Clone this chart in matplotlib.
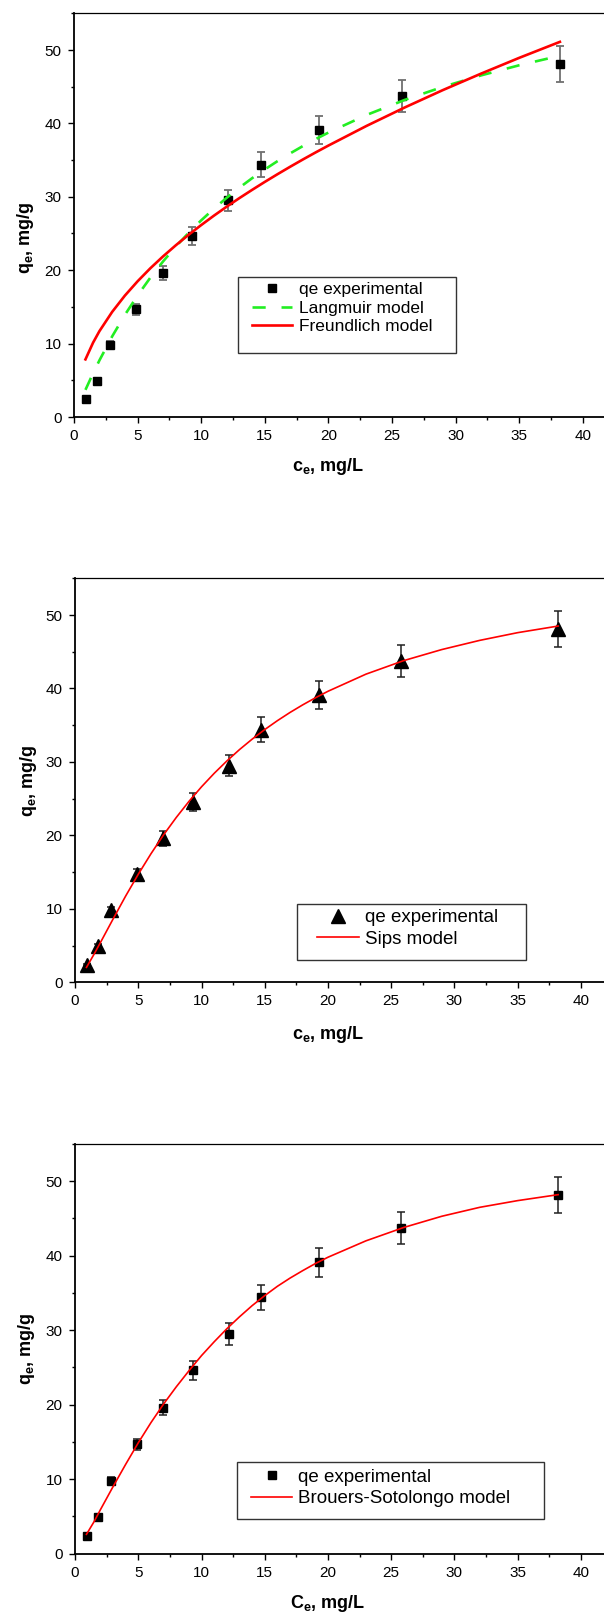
import matplotlib
matplotlib.use("Agg")
import matplotlib.pyplot as plt
from matplotlib.ticker import MultipleLocator
from matplotlib.patches import Rectangle

plt.rcParams['font.family'] = ['Liberation Sans', 'DejaVu Sans']
plt.rcParams['mathtext.fontset'] = 'custom'
plt.rcParams['mathtext.rm'] = 'Liberation Sans'
plt.rcParams['mathtext.it'] = 'Liberation Sans:italic'
plt.rcParams['mathtext.bf'] = 'Liberation Sans:bold'

# experimental points (same in all three panels)
ce = [0.91, 1.79, 2.82, 4.90, 6.99, 9.29, 12.14, 14.71, 19.26, 25.79, 38.18]
qe = [2.4, 4.9, 9.8, 14.7, 19.6, 24.6, 29.5, 34.4, 39.1, 43.7, 48.1]
qe_err = [0.12, 0.25, 0.49, 0.74, 0.98, 1.23, 1.48, 1.72, 1.96, 2.19, 2.41]

# model curves
c_fit = [0.9, 1.5, 2, 3, 4, 5, 6, 7, 8, 9, 10, 11, 12, 13, 14, 15, 16, 17, 18, 19, 20,
         23, 26, 29, 32, 35, 38.2]
q_langmuir = [3.70, 5.96, 7.72, 10.98, 13.91, 16.56, 18.98, 21.19, 23.21, 25.07, 26.79,
              28.38, 29.86, 31.24, 32.53, 33.73, 34.86, 35.92, 36.92, 37.86, 38.75,
              41.15, 43.20, 44.98, 46.54, 47.92, 49.22]
q_freundlich = [7.85, 10.13, 11.70, 14.32, 16.54, 18.49, 20.26, 21.88, 23.39, 24.81, 26.15,
                27.43, 28.65, 29.82, 30.94, 32.03, 33.08, 34.10, 35.09, 36.05, 36.98,
                39.66, 42.17, 44.54, 46.78, 48.93, 51.11]
q_sips = [2.03, 3.83, 5.40, 8.61, 11.75, 14.72, 17.50, 20.08, 22.44, 24.62, 26.62,
          28.45, 30.13, 31.68, 33.10, 34.41, 35.62, 36.74, 37.77, 38.73, 39.62,
          41.95, 43.80, 45.30, 46.55, 47.60, 48.50]
q_brouers = [2.6, 4.3, 5.9, 9.0, 12.0, 14.9, 17.6, 20.1, 22.4, 24.55, 26.6,
             28.45, 30.2, 31.8, 33.3, 34.65, 35.9, 37.0, 38.0, 38.95, 39.8,
             42.0, 43.8, 45.3, 46.5, 47.4, 48.2]

W, H = 604, 1617
fig = plt.figure(figsize=(W / 100, H / 100), dpi=100)


def px_axes(left, top, right, bottom):
    # axes rectangle given in image pixels (y down)
    return fig.add_axes([left / W, (H - bottom) / H, (right - left) / W, (bottom - top) / H])


def style_axes(ax):
    ax.set_xlim(0, 45)
    ax.set_ylim(0, 55)
    ax.set_xticks([0, 5, 10, 15, 20, 25, 30, 35, 40])
    ax.xaxis.set_minor_locator(MultipleLocator(2.5))
    ax.yaxis.set_major_locator(MultipleLocator(10))
    ax.yaxis.set_minor_locator(MultipleLocator(5))
    ax.tick_params(which='major', direction='out', length=4, width=1, labelsize=11)
    ax.tick_params(which='minor', direction='out', length=2.5, width=1)
    ax.tick_params(axis='x', pad=4.5)
    ax.tick_params(axis='y', pad=5)
    ax.spines['right'].set_visible(False)
    for s in ['left', 'bottom']:
        ax.spines[s].set_linewidth(1.3)
    ax.spines['top'].set_linewidth(0.9)


def labels(ax, xtext, xpos, ypos):
    ax.set_xlabel(xtext, fontsize=13, fontweight='bold', va='center')
    ax.set_ylabel(r'$\mathbf{q_e}$, mg/g', fontsize=13, fontweight='bold', va='center')
    ax.xaxis.set_label_coords(*xpos)
    ax.yaxis.set_label_coords(*ypos)


def add_legend(ax, box, hx, hy, fs, hl, htp, ls):
    x0, y0, x1, y1 = box
    fig.patches.append(Rectangle((x0 / W, 1 - y1 / H), (x1 - x0) / W, (y1 - y0) / H,
                                 transform=fig.transFigure, fill=False,
                                 edgecolor='#333333', linewidth=1.0))
    ax.legend(loc='upper left', bbox_to_anchor=(hx / W, 1 - hy / H),
              bbox_transform=fig.transFigure, borderaxespad=0, borderpad=0,
              frameon=False, fontsize=fs, handlelength=hl, handletextpad=htp,
              labelspacing=ls)


# ---------- panel 1 : Langmuir / Freundlich ----------
ax1 = px_axes(74, 13.3, 74 + 45 * 12.72, 417)
ax1.errorbar(ce, qe, yerr=qe_err, fmt='none', ecolor='#707070', elinewidth=1.3,
             capsize=3, capthick=1.3, zorder=2)
ax1.plot(ce, qe, 's', color='black', ms=6.2, label='qe experimental', zorder=3)
ax1.plot(c_fit, q_langmuir, '--', color='#22ee22', lw=1.9, dashes=(5, 6),
         label='Langmuir model', zorder=4)
ax1.plot(c_fit, q_freundlich, '-', color='#ff0000', lw=1.9, label='Freundlich model', zorder=5)
style_axes(ax1)
labels(ax1, r'$\mathbf{c_e}$, mg/L', (20 / 45, -0.123), (-0.084, 0.443))
add_legend(ax1, (238.4, 277, 455.7, 353), 252, 282, 12.5, 2.3, 0.4, 0.2)

# ---------- panel 2 : Sips ----------
ax2 = px_axes(75.1, 578.3, 75.1 + 45 * 12.645, 982.3)
ax2.errorbar(ce, qe, yerr=qe_err, fmt='none', ecolor='#202020', elinewidth=1.1,
             capsize=2.8, capthick=1.1, zorder=2)
ax2.plot(ce, qe, '^', color='black', ms=10, label='qe experimental', zorder=3)
ax2.plot(c_fit, q_sips, '-', color='#ff0000', lw=1.2, label='Sips model', zorder=4)
style_axes(ax2)
labels(ax2, r'$\mathbf{c_e}$, mg/L', (20 / 45, -0.128), (-0.082, 0.5))
add_legend(ax2, (296.6, 904, 526.2, 960), 317, 909, 13.5, 2.24, 0.3, 0.23)

# ---------- panel 3 : Brouers-Sotolongo ----------
ax3 = px_axes(75.1, 1144, 75.1 + 45 * 12.645, 1553.7)
ax3.errorbar(ce, qe, yerr=qe_err, fmt='none', ecolor='#202020', elinewidth=1.1,
             capsize=2.8, capthick=1.1, zorder=2)
ax3.plot(ce, qe, 's', color='black', ms=6.2, label='qe experimental', zorder=3)
ax3.plot(c_fit, q_brouers, '-', color='#ff0000', lw=1.2, label='Brouers-Sotolongo model', zorder=4)
style_axes(ax3)
labels(ax3, r'$\mathbf{C_e}$, mg/L', (20 / 45, -0.121), (-0.085, 0.5))
add_legend(ax3, (236.9, 1462, 543.9, 1519), 251.2, 1468.5, 13.5, 2.2, 0.3, 0.23)

fig.savefig('out.png', dpi=100)
